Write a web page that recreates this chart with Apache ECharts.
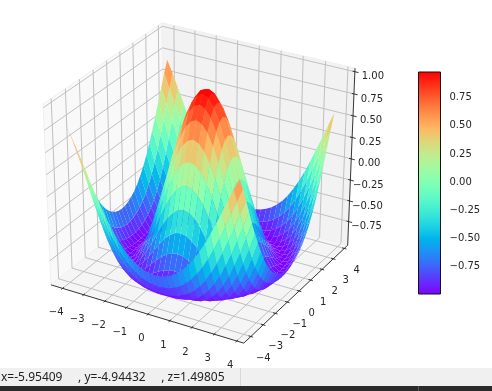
<!DOCTYPE html>
<html><head><meta charset="utf-8">
<style>html,body{margin:0;padding:0;background:#fff}#c{width:492px;height:391px}</style>
<script src="https://cdn.jsdelivr.net/npm/echarts@6/dist/echarts.min.js"></script>
</head><body><div id="c"></div>
<script>
const xValues = [-4,-3.75,-3.5,-3.25,-3,-2.75,-2.5,-2.25,-2,-1.75,-1.5,-1.25,-1,-0.75,-0.5,-0.25,0,0.25,0.5,0.75,1,1.25,1.5,1.75,2,2.25,2.5,2.75,3,3.25,3.5,3.75];
const yValues = [-4,-3.75,-3.5,-3.25,-3,-2.75,-2.5,-2.25,-2,-1.75,-1.5,-1.25,-1,-0.75,-0.5,-0.25,0,0.25,0.5,0.75,1,1.25,1.5,1.75,2,2.25,2.5,2.75,3,3.25,3.5,3.75];
// height of the surface per quarter-unit distance from the centre (the surface is symmetric)
const zQuadrant = [
[1,.969,.878,.732,.540,.315,.071,-.178,-.416,-.628,-.801,-.924,-.990,-.994,-.936,-.821,-.654],
[.969,.938,.848,.703,.514,.291,.050,-.196,-.431,-.639,-.808,-.928,-.991,-.993,-.933,-.816,-.648],
[.878,.848,.760,.621,.438,.223,-.010,-.247,-.472,-.670,-.830,-.941,-.995,-.989,-.923,-.801,-.630],
[.732,.703,.621,.488,.315,.113,-.106,-.327,-.536,-.718,-.862,-.958,-.999,-.981,-.906,-.776,-.599],
[.540,.514,.438,.315,.156,-.030,-.230,-.431,-.617,-.778,-.901,-.977,-1,-.967,-.878,-.739,-.556],
[.315,.291,.223,.113,-.030,-.196,-.373,-.548,-.708,-.843,-.941,-.993,-.994,-.943,-.839,-.688,-.498],
[.071,.050,-.010,-.106,-.230,-.373,-.523,-.670,-.801,-.906,-.974,-1,-.978,-.906,-.786,-.624,-.426],
[-.178,-.196,-.247,-.327,-.431,-.548,-.670,-.786,-.885,-.958,-.996,-.993,-.946,-.853,-.717,-.544,-.339],
[-.416,-.431,-.472,-.536,-.617,-.708,-.801,-.885,-.951,-.991,-.998,-.967,-.894,-.781,-.630,-.446,-.238],
[-.628,-.639,-.670,-.718,-.778,-.843,-.906,-.958,-.991,-.999,-.975,-.917,-.821,-.688,-.524,-.332,-.123],
[-.801,-.808,-.830,-.862,-.901,-.941,-.974,-.996,-.998,-.975,-.923,-.839,-.722,-.575,-.400,-.204,.005],
[-.924,-.928,-.941,-.958,-.977,-.993,-1,-.993,-.967,-.917,-.839,-.733,-.599,-.439,-.258,-.062,.141],
[-.990,-.991,-.995,-.999,-1,-.994,-.978,-.946,-.894,-.821,-.722,-.599,-.452,-.285,-.102,.090,.284],
[-.994,-.993,-.989,-.981,-.967,-.943,-.906,-.853,-.781,-.688,-.575,-.439,-.285,-.116,.064,.248,.428],
[-.936,-.933,-.923,-.906,-.878,-.839,-.786,-.717,-.630,-.524,-.400,-.258,-.102,.064,.236,.405,.568],
[-.821,-.816,-.801,-.776,-.739,-.688,-.624,-.544,-.446,-.332,-.204,-.062,.090,.248,.405,.558,.700],
[-.654,-.648,-.630,-.599,-.556,-.498,-.426,-.339,-.238,-.123,.005,.141,.284,.428,.568,.700,.811]
];
const xTicks = [-4,-3,-2,-1,0,1,2,3,4];
const yTicks = [-4,-3,-2,-1,0,1,2,3,4];
const zTicks = [-0.75,-0.5,-0.25,0,0.25,0.5,0.75,1];
const xTickLabels = ['\u22124','\u22123','\u22122','\u22121','0','1','2','3','4'];
const yTickLabels = ['\u22124','\u22123','\u22122','\u22121','0','1','2','3','4'];
const zTickLabels = ['\u22120.75','\u22120.50','\u22120.25','0.00','0.25','0.50','0.75','1.00'];
const colorRange = [-0.997, 0.98];
const colorbarTicks = [-0.75,-0.5,-0.25,0,0.25,0.5,0.75];
const statusText = 'x=-5.95409     , y=-4.94432     , z=1.49805';

const xLim = [-4.56, 4.31], yLim = [-4.56, 4.31], zLim = [-1.04, 1.04];

function rainbow(t){
  t = Math.max(0, Math.min(1, t));
  const r = Math.min(1, Math.abs(2*t-0.5)), g = Math.sin(t*Math.PI), b = Math.cos(t*Math.PI/2);
  return 'rgb(' + Math.round(r*255) + ',' + Math.round(g*255) + ',' + Math.round(b*255) + ')';
}
// perspective view: elevation 30, azimuth -60, distance 10
function project(x, y, z){
  const qx = (x-xLim[0])/(xLim[1]-xLim[0]) - .5;
  const qy = (y-yLim[0])/(yLim[1]-yLim[0]) - .5;
  const qz = (z-zLim[0])/(zLim[1]-zLim[0]) - .5;
  const U = .75*qx + .4330127*qy;
  const V = -.2165064*qx + .375*qy + .75*qz;
  const N = .4330127*qx - .75*qy + .5*qz;
  const f = 10/(10-N);
  return { px: 201.6 + 257*U*f, py: 177.5 - 238.5*V*f, depth: 10-N };
}
function zAt(x, y){ return zQuadrant[Math.round(Math.abs(y)*4)][Math.round(Math.abs(x)*4)]; }
const P = (api, x, y, z) => { const p = project(x,y,z); return api.coord([p.px, p.py]); };

// faces sorted back to front
const faces = [];
for (let j=0;j<yValues.length-1;j++) for (let i=0;i<xValues.length-1;i++){
  const x0=xValues[i],x1=xValues[i+1],y0=yValues[j],y1=yValues[j+1];
  const zs=[zAt(x0,y0),zAt(x1,y0),zAt(x1,y1),zAt(x0,y1)];
  const d=(project(x0,y0,zs[0]).depth+project(x1,y0,zs[1]).depth+project(x1,y1,zs[2]).depth+project(x0,y1,zs[3]).depth)/4;
  faces.push({i,j,d});
}
faces.sort((a,b)=>b.d-a.d);
const faceData = faces.map(f=>[f.i,f.j]);

const paneData = [[0],[1],[2]];
const paneColors = ['#f9f9f9','#f2f2f2','#f5f5f5'];
const [x0,x1]=xLim,[y0,y1]=yLim,[z0,z1]=zLim;
const paneCorners = [
 [[x0,y0,z0],[x0,y1,z0],[x0,y1,z1],[x0,y0,z1]],
 [[x0,y1,z0],[x1,y1,z0],[x1,y1,z1],[x0,y1,z1]],
 [[x0,y0,z0],[x1,y0,z0],[x1,y1,z0],[x0,y1,z0]]
];
const gridData = [].concat(xTicks.map(v=>[0,v]), yTicks.map(v=>[1,v]), zTicks.map(v=>[2,v]));
function gridPath(k,v){
  if(k===0) return [[v,y0,z0],[v,y1,z0],[v,y1,z1]];
  if(k===1) return [[x1,v,z0],[x0,v,z0],[x0,v,z1]];
  return [[x0,y0,v],[x0,y1,v],[x1,y1,v]];
}
const axisLineData = [[0],[1],[2]];
const axisPaths = [[[x0,y0,z0],[x1,y0,z0]],[[x1,y0,z0],[x1,y1,z0]],[[x1,y1,z0],[x1,y1,z1]]];
const tickData = [].concat(xTicks.map((v,n)=>[0,v,n]), yTicks.map((v,n)=>[1,v,n]), zTicks.map((v,n)=>[2,v,n]));
const tickIn = 0.10, tickOut = 0.10;
function tickPath(k,v){
  if(k===0) return [[v,y0+tickIn,z0],[v,y0-tickOut,z0]];
  if(k===1) return [[x1-tickIn,v,z0],[x1+tickOut,v,z0]];
  return [[x1-tickIn,y1,v],[x1+tickOut*1.6,y1,v]];
}
const labelOffset = [[-6.5,24.5],[12.5,22],[18,5]];
const labelSets = [xTickLabels,yTickLabels,zTickLabels];
const textColor = '#262626';
const noSilent = {silent:true, animation:false, clip:false, coordinateSystem:'cartesian2d', xAxisIndex:0, yAxisIndex:0, progressive:0, type:'custom'};

const stops=[]; for(let k=0;k<=64;k++) stops.push({offset:k/64,color:rainbow(1-k/64)});

const chart = echarts.init(document.getElementById('c'),null,{renderer:'canvas'});
chart.setOption({
  animation:false,
  backgroundColor:'#fff',
  grid:[
    {left:0,top:0,width:492,height:391,show:false},
    {left:418.5,top:72,width:22,height:222,show:false}
  ],
  xAxis:[
    {type:'value',gridIndex:0,min:0,max:492,show:false},
    {type:'value',gridIndex:1,min:0,max:1,show:false}
  ],
  yAxis:[
    {type:'value',gridIndex:0,min:0,max:391,inverse:true,show:false},
    {type:'value',gridIndex:1,position:'right',min:colorRange[0],max:colorRange[1],
     axisLine:{show:false},splitLine:{show:false},
     axisTick:{show:true,length:3.5,customValues:colorbarTicks,lineStyle:{color:'#111',width:1}},
     axisLabel:{show:true,customValues:colorbarTicks,margin:9,fontFamily:'DejaVu Sans',fontSize:10,color:textColor,
       formatter:v=>(v<0?'\u2212':'')+Math.abs(v).toFixed(2)}}
  ],
  series:[
    Object.assign({},noSilent,{name:'panes',data:paneData,z:1,renderItem:(p,api)=>({
      type:'polygon',shape:{points:paneCorners[api.value(0)].map(c=>P(api,c[0],c[1],c[2]))},
      style:{fill:paneColors[api.value(0)],stroke:'#f0f0f0',lineWidth:1}})}),
    Object.assign({},noSilent,{name:'grid',data:gridData,z:2,renderItem:(p,api)=>({
      type:'polyline',shape:{points:gridPath(api.value(0),api.value(1)).map(c=>P(api,c[0],c[1],c[2]))},
      style:{fill:'none',stroke:'#c0c0c0',lineWidth:1}})}),
    Object.assign({},noSilent,{name:'axes',data:axisLineData,z:3,renderItem:(p,api)=>({
      type:'polyline',shape:{points:axisPaths[api.value(0)].map(c=>P(api,c[0],c[1],c[2]))},
      style:{fill:'none',stroke:'#222',lineWidth:0.9}})}),
    Object.assign({},noSilent,{name:'ticks',data:tickData,z:3,renderItem:(p,api)=>({
      type:'polyline',shape:{points:tickPath(api.value(0),api.value(1)).map(c=>P(api,c[0],c[1],c[2]))},
      style:{fill:'none',stroke:'#222',lineWidth:0.9}})}),
    Object.assign({},noSilent,{name:'tickLabels',data:tickData,z:3,renderItem:(p,api)=>{
      const k=api.value(0),v=api.value(1),n=api.value(2);
      const a=k===0?P(api,v,y0,z0):k===1?P(api,x1,v,z0):P(api,x1,y1,v);
      return {type:'text',style:{x:a[0]+labelOffset[k][0],y:a[1]+labelOffset[k][1],text:labelSets[k][n],
        align:'center',verticalAlign:'middle',fill:textColor,font:'10px "DejaVu Sans"'}};
    }}),
    Object.assign({},noSilent,{name:'surface',data:faceData,z:4,renderItem:(p,api)=>{
      const i=api.value(0),j=api.value(1);
      const xa=xValues[i],xb=xValues[i+1],ya=yValues[j],yb=yValues[j+1];
      const zs=[zAt(xa,ya),zAt(xb,ya),zAt(xb,yb),zAt(xa,yb)];
      const avg=(zs[0]+zs[1]+zs[2]+zs[3])/4;
      const col=rainbow((avg-colorRange[0])/(colorRange[1]-colorRange[0]));
      return {type:'polygon',shape:{points:[P(api,xa,ya,zs[0]),P(api,xb,ya,zs[1]),P(api,xb,yb,zs[2]),P(api,xa,yb,zs[3])]},
        style:{fill:col,stroke:'none'}};
    }}),
    {type:'custom',name:'colorbar',coordinateSystem:'cartesian2d',xAxisIndex:1,yAxisIndex:1,silent:true,animation:false,clip:false,z:5,
     data:[colorRange],
     renderItem:(p,api)=>{
       const a=api.coord([0,api.value(1)]),b=api.coord([1,api.value(0)]);
       return {type:'rect',shape:{x:a[0],y:a[1],width:b[0]-a[0],height:b[1]-a[1]},
         style:{fill:new echarts.graphic.LinearGradient(0,0,0,1,stops),stroke:'#111',lineWidth:1}};
     }}
  ],
  graphic:[
    {type:'rect',silent:true,z:10,shape:{x:0,y:368,width:492,height:18},style:{fill:'#f0f0f0'}},
    {type:'rect',silent:true,z:10,shape:{x:240,y:368,width:1,height:18},style:{fill:'#d9d9d9'}},
    {type:'rect',silent:true,z:10,shape:{x:0,y:386,width:492,height:5},style:{fill:'#2b2b2b'}},
    {type:'rect',silent:true,z:11,shape:{x:418,y:386,width:1,height:5},style:{fill:'#555'}},
    {type:'text',silent:true,z:11,style:{x:1,y:377.5,text:statusText,fill:'#222',font:'12px "Noto Sans"',align:'left',verticalAlign:'middle'}}
  ]
});
</script></body></html>
